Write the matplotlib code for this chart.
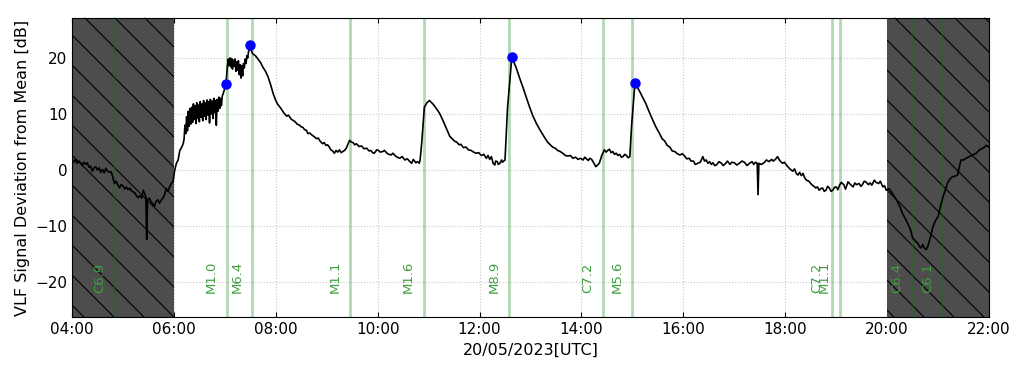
import numpy as np
import pandas as pd
import matplotlib
matplotlib.use("Agg")
import matplotlib.pyplot as plt
import matplotlib.dates as mdates
from matplotlib.patches import Rectangle

day = "2023-05-20 "

# VLF signal deviation
sig_times = [
    # night, 04:00 - 06:00
    "04:00", "04:02", "04:04", "04:06", "04:08", "04:10", "04:12", "04:14", "04:16", "04:18",
    "04:20", "04:22", "04:24", "04:26", "04:28", "04:30", "04:32", "04:34", "04:36", "04:38",
    "04:40", "04:42", "04:44", "04:46", "04:48", "04:50", "04:52", "04:54", "04:56", "04:58",
    "05:00", "05:02", "05:04", "05:06", "05:08", "05:10", "05:12", "05:14", "05:16", "05:18",
    "05:20", "05:22", "05:24", "05:26", "05:27", "05:28", "05:29", "05:31", "05:33", "05:35",
    "05:37", "05:39", "05:41", "05:43", "05:45", "05:47", "05:49", "05:51", "05:53", "05:55",
    "05:57", "05:59", "06:01",
    # sunrise and the first two flares
    "06:03", "06:05", "06:07", "06:09", "06:11", "06:12", "06:13",
    "06:14", "06:15", "06:16", "06:17", "06:18", "06:19", "06:20", "06:21", "06:22", "06:23",
    "06:24", "06:25", "06:26", "06:27", "06:28", "06:29", "06:30", "06:31", "06:32", "06:33",
    "06:34", "06:35", "06:36", "06:37", "06:38", "06:39", "06:40", "06:41", "06:42", "06:43",
    "06:44", "06:45", "06:46", "06:47", "06:48", "06:49", "06:50", "06:51", "06:52", "06:53",
    "06:54", "06:55", "06:56", "06:57", "06:58", "07:00", "07:01", "07:02", "07:03", "07:04",
    "07:05", "07:06", "07:07", "07:08", "07:09", "07:10", "07:11", "07:12", "07:13", "07:14",
    "07:15", "07:16", "07:17", "07:18", "07:19", "07:20", "07:21", "07:22", "07:23", "07:24",
    "07:25", "07:26", "07:27", "07:28", "07:29", "07:30", "07:31", "07:33", "07:36", "07:39",
    "07:42", "07:45", "07:48", "07:51", "07:54", "07:57", "08:00", "08:02", "08:06",
    # 08:10 - 10:50
    "08:10", "08:13", "08:15", "08:18", "08:20", "08:23", "08:25", "08:28", "08:30", "08:32",
    "08:34", "08:36", "08:38", "08:40", "08:43", "08:45", "08:48", "08:50", "08:52", "08:55",
    "08:57", "08:59", "09:01", "09:03", "09:05", "09:07", "09:09", "09:11", "09:13", "09:15",
    "09:17", "09:19", "09:21", "09:23", "09:25", "09:27", "09:29", "09:31", "09:33", "09:35",
    "09:38", "09:41", "09:44", "09:47", "09:50", "09:52", "09:54", "09:56", "09:59", "10:01",
    "10:03", "10:06", "10:08", "10:11", "10:13", "10:16", "10:18", "10:21", "10:23", "10:26",
    "10:29", "10:32", "10:35", "10:38", "10:40", "10:42", "10:45", "10:47", "10:49", "10:50",
    # M1.6
    "10:52", "10:55", "10:58", "11:01", "11:05", "11:09", "11:13", "11:17", "11:21", "11:25",
    "11:29", "11:31", "11:33", "11:36", "11:38", "11:41", "11:44", "11:47", "11:50", "11:53",
    "11:56", "11:59", "12:02", "12:05", "12:08", "12:10", "12:12", "12:14", "12:16", "12:18",
    "12:19", "12:21", "12:22", "12:24", "12:26", "12:27", "12:30",
    # M8.9
    "12:33", "12:38", "12:43", "12:47", "12:51", "12:55", "12:59", "13:03", "13:07", "13:11",
    "13:15", "13:20",
    "13:26", "13:29", "13:32", "13:35", "13:38", "13:41", "13:44", "13:47", "13:50", "13:53",
    "13:56", "13:59", "14:02", "14:04", "14:06", "14:08", "14:10", "14:12", "14:14", "14:17",
    "14:19", "14:21", "14:24", "14:27", "14:29", "14:31", "14:33", "14:35", "14:37", "14:39",
    "14:41", "14:43", "14:45", "14:47", "14:49", "14:51", "14:53", "14:55", "14:57",
    # M5.6
    "14:59", "15:03", "15:05", "15:08", "15:12", "15:16", "15:20", "15:24", "15:28",
    "15:32", "15:35", "15:38", "15:41", "15:44", "15:47", "15:50", "15:53", "15:56", "15:59",
    # afternoon
    "16:02", "16:04", "16:07", "16:09", "16:12", "16:14", "16:17", "16:20", "16:23", "16:25",
    "16:27", "16:29", "16:31", "16:33", "16:35", "16:37", "16:39", "16:42", "16:45", "16:47",
    "16:50", "16:52", "16:55", "16:57", "17:00", "17:03", "17:06", "17:09", "17:12", "17:15",
    "17:18", "17:21", "17:23", "17:25", "17:27", "17:28", "17:29", "17:32", "17:35", "17:38",
    "17:41", "17:44", "17:46", "17:49", "17:51", "17:54", "17:57", "17:59", "18:01", "18:03",
    "18:05", "18:07", "18:09", "18:11", "18:13", "18:15", "18:17", "18:19", "18:21", "18:23",
    "18:25", "18:28", "18:30", "18:32", "18:34", "18:36", "18:38", "18:40", "18:42", "18:44",
    "18:46", "18:48", "18:50", "18:52", "18:54", "18:56", "18:58", "19:00", "19:02", "19:04",
    "19:06", "19:09", "19:11", "19:14", "19:17", "19:20", "19:22", "19:24", "19:27", "19:29",
    "19:31", "19:33", "19:35", "19:38", "19:40", "19:42", "19:45", "19:47", "19:50", "19:52",
    "19:55", "19:57", "19:59",
    # night, 20:00 - 22:00
    "20:02", "20:05", "20:08", "20:11", "20:15", "20:18", "20:22", "20:26", "20:28", "20:30",
    "20:33", "20:36", "20:38", "20:40", "20:42", "20:44", "20:46", "20:48", "20:51", "20:54",
    "20:57", "21:00", "21:03", "21:06", "21:09", "21:11", "21:14", "21:17", "21:20", "21:23",
    "21:25", "21:27", "21:30", "21:33", "21:37", "21:41", "21:45", "21:49", "21:53", "21:57",
    "22:00",
]
sig_db = [
    # night, 04:00 - 06:00
    1.8, 1.4, 1.9, 1.2, 1.6, 1.3, 0.8, 1.4, 1.0, 1.3,
    0.5, 0.7, -0.2, 0.4, 0.6, 0.0, 0.4, -0.4, 0.1, -0.5,
    0.3, -0.2, -0.4, -0.3, -1.2, -2.4, -2.0, -2.6, -3.2, -2.6,
    -2.8, -3.4, -3.0, -3.5, -3.2, -3.7, -3.9, -4.1, -4.6, -4.9,
    -4.6, -5.0, -3.6, -4.4, -4.8, -12.4, -5.2, -5.0, -5.6, -6.0,
    -6.5, -5.6, -5.3, -5.9, -5.4, -5.0, -4.4, -3.3, -3.8, -3.0,
    -2.4, -2.1, 0.0,
    # sunrise and the first two flares
    1.2, 1.8, 3.5, 4.0, 4.7, 5.5, 8.0,
    6.5, 9.5, 7.0, 10.5, 7.8, 11.0, 8.2, 11.2, 8.5, 11.8,
    9.0, 11.5, 8.3, 12.0, 9.2, 11.6, 8.6, 12.2, 9.4, 11.8,
    8.8, 12.4, 9.6, 12.0, 9.0, 12.5, 9.8, 12.2, 8.4, 12.6,
    10.0, 12.3, 9.2, 12.8, 10.2, 12.4, 8.0, 12.6, 10.5, 13.0,
    11.0, 12.8, 11.5, 13.2, 13.6, 14.6, 15.3, 16.5, 18.5, 19.8,
    18.6, 20.0, 18.4, 19.9, 18.0, 19.6, 18.5, 19.8, 17.6, 19.3,
    17.8, 19.5, 17.0, 18.8, 16.4, 18.6, 16.8, 19.0, 18.2, 19.8,
    19.0, 20.4, 20.0, 21.2, 21.5, 22.3, 21.4, 20.7, 20.4, 19.8,
    19.2, 18.3, 17.6, 16.6, 15.2, 13.6, 12.4, 11.8, 11.0,
    # 08:10 - 10:50
    10.1, 9.6, 9.8, 9.1, 8.9, 8.6, 8.2, 8.0, 7.7, 7.6,
    7.2, 7.1, 6.5, 6.6, 6.2, 6.0, 5.6, 5.7, 5.2, 4.7,
    4.9, 4.4, 4.5, 4.1, 3.6, 3.4, 3.0, 3.5, 3.2, 3.6,
    3.1, 3.3, 3.5, 3.9, 4.6, 5.3, 5.0, 4.9, 4.5, 4.7,
    4.2, 4.3, 3.8, 3.9, 3.4, 3.5, 3.1, 3.0, 3.6, 3.5,
    3.2, 3.3, 3.5, 3.0, 2.8, 2.7, 3.0, 2.5, 2.3, 2.1,
    2.4, 1.8, 2.0, 1.5, 1.2, 1.9, 1.3, 1.5, 1.2, 1.8,
    # M1.6
    5.0, 11.2, 12.0, 12.4, 11.8, 11.0, 10.1, 8.8, 7.4, 6.0,
    5.4, 5.1, 5.0, 4.5, 4.6, 4.0, 4.1, 3.6, 3.5, 3.2,
    3.0, 3.1, 2.6, 2.8, 2.1, 2.6, 1.9, 2.4, 1.2, 0.9,
    1.6, 1.5, 1.0, 1.2, 1.8, 1.4, 1.8,
    # M8.9
    11.2, 20.1, 18.3, 16.5, 14.8, 13.0, 11.2, 9.6, 8.3, 7.2,
    6.2, 5.0,
    4.1, 3.9, 3.5, 3.3, 3.0, 2.6, 2.5, 2.6, 2.1, 2.3,
    1.9, 2.1, 1.8, 2.3, 2.0, 1.7, 2.1, 1.9, 1.4, 0.6,
    0.9, 1.2, 2.6, 3.6, 3.2, 3.5, 3.7, 3.1, 3.3, 2.8,
    3.0, 2.6, 2.8, 2.3, 2.4, 2.8, 2.6, 2.2, 2.4,
    # M5.6
    7.7, 15.5, 15.0, 14.2, 13.0, 11.8, 10.3, 8.9, 7.6,
    6.5, 5.6, 5.2, 4.4, 4.1, 3.4, 3.3, 2.9, 2.7, 2.9,
    # afternoon
    2.4, 2.0, 2.1, 1.6, 1.6, 1.0, 1.2, 1.4, 2.4, 1.6,
    1.8, 1.2, 1.5, 1.0, 1.3, 0.8, 0.9, 1.5, 1.2, 0.8,
    1.2, 1.6, 1.0, 1.4, 1.3, 0.9, 1.2, 1.6, 1.4, 0.8,
    1.2, 1.5, 1.0, 1.4, 1.2, -4.4, 1.2, 1.0, 1.3, 1.8,
    1.5, 1.9, 1.6, 2.0, 2.4, 1.6, 1.2, 1.4, 1.0, 0.6,
    0.3, 0.0, -0.2, 0.2, -0.6, -0.9, -0.4, -1.0, -0.6, -1.4,
    -1.8, -2.0, -2.4, -2.7, -2.9, -3.2, -3.0, -3.6, -3.3, -3.2,
    -3.8, -3.6, -2.9, -3.2, -3.8, -3.6, -3.1, -3.0, -3.5, -2.7,
    -2.2, -2.6, -3.4, -2.1, -2.6, -3.0, -2.3, -2.6, -2.4, -2.9,
    -2.6, -2.0, -2.1, -2.6, -2.3, -2.7, -1.8, -2.2, -2.4, -2.0,
    -3.0, -2.8, -3.6,
    # night, 20:00 - 22:00
    -3.3, -3.9, -4.6, -5.3, -6.5, -7.7, -8.8, -10.1, -10.8, -12.1,
    -12.6, -13.0, -13.6, -13.9, -13.3, -13.9, -14.2, -13.6, -12.0, -10.1,
    -9.0, -8.3, -6.4, -4.7, -3.4, -2.4, -1.6, -1.2, -1.1, -0.9,
    0.5, 1.8, 1.8, 2.1, 2.4, 2.7, 3.0, 3.6, 3.9, 4.4,
    4.1,
]

# detected peaks
peak_times = ["07:01", "07:30", "12:38", "15:03"]
peak_db = [15.3, 22.3, 20.1, 15.5]

# flares
flare_times = ["04:50", "07:02", "07:32", "09:28", "10:54", "12:35",
               "14:25", "15:00", "18:55", "19:04", "20:29", "21:05"]
flare_class = ["C6.9", "M1.0", "M6.4", "M1.1", "M1.6", "M8.9",
               "C7.2", "M5.6", "C7.2", "M1.1", "C6.4", "C6.1"]

# night time
night_start = ["04:00", "20:00"]
night_end = ["06:00", "22:00"]

assert len(sig_times) == len(sig_db)


def to_dt(lst):
    return pd.to_datetime([day + s for s in lst])


t_sig = to_dt(sig_times)
t_peak = to_dt(peak_times)
t_flare = to_dt(flare_times)
t_n0 = to_dt(night_start)
t_n1 = to_dt(night_end)

fig = plt.figure(figsize=(10.24, 3.69), dpi=100)
ax = fig.add_axes([0.0703, 0.141, 0.8955, 0.810])
ax.set_xlim(pd.Timestamp(day + "04:00"), pd.Timestamp(day + "22:00"))
ax.set_ylim(-26.2, 27.1)

ax.grid(True, linestyle=":", color="#c8c8c8", linewidth=0.8)

# night shading with sparse diagonal hatch
w_px = ax.bbox.width
h_px = ax.bbox.height
step = 30.0 / w_px
for a, b in zip(t_n0, t_n1):
    x0 = mdates.date2num(a)
    x1 = mdates.date2num(b)
    rect = Rectangle((x0, -100), x1 - x0, 200, facecolor="#4d4d4d",
                     edgecolor="none", zorder=1.6)
    ax.add_patch(rect)
    for u in np.arange(-1.0, 1.5, step):
        ln, = ax.plot([u, u + h_px / w_px], [1, 0], transform=ax.transAxes,
                      color="black", lw=0.8, zorder=1.7)
        ln.set_clip_path(rect)

# flare lines and labels
for t, c in zip(t_flare, flare_class):
    ax.axvline(t, color="green", alpha=0.3, lw=2, zorder=2)
    ax.text(t - pd.Timedelta(minutes=10), -22, c, rotation=90, ha="right",
            va="bottom", color="#3f9f3f", fontsize=9.5, zorder=3)

ax.plot(t_sig, sig_db, color="black", lw=1.2, zorder=4)
ax.plot(t_peak, peak_db, "o", color="blue", ms=6.5, zorder=5)

ax.xaxis.set_major_locator(mdates.HourLocator(byhour=range(0, 24, 2)))
ax.xaxis.set_major_formatter(mdates.DateFormatter("%H:%M"))
ax.set_yticks([-20, -10, 0, 10, 20])
ax.tick_params(direction="in", top=True, right=True, labelsize=11)
ax.set_xlabel("20/05/2023[UTC]", fontsize=11.5)
ax.set_ylabel("VLF Signal Deviation from Mean [dB]", fontsize=11.5)

fig.savefig("out.png", dpi=100)
